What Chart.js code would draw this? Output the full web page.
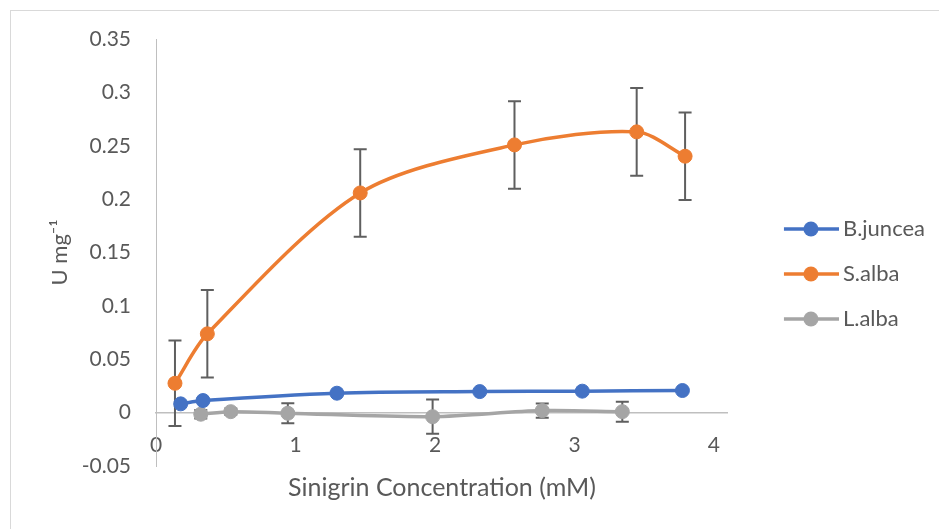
<!DOCTYPE html>
<html>
<head>
<meta charset="utf-8">
<script src="https://cdn.jsdelivr.net/npm/chart.js@4"></script>
<style>
  html, body { margin: 0; padding: 0; background: #ffffff; }
  #wrap { position: relative; width: 939px; height: 529px; overflow: hidden; }
  #frame { position: absolute; left: 10px; top: 10px; width: 960px; height: 560px;
           border: 1px solid #d9d9d9; box-sizing: border-box; pointer-events: none; }
  #c { position: absolute; left: 0; top: 0; }
</style>
</head>
<body>
<div id="wrap">
  <canvas id="c" width="939" height="529"></canvas>
  <div id="frame"></div>
</div>
<script>
// Series names
const seriesNames = ['B.juncea', 'S.alba', 'L.alba'];

// Sinigrin concentration (mM) and activity (U mg-1) per series
const bJunceaX = [0.177, 0.337, 1.297, 2.321, 3.056, 3.774];
const bJunceaY = [0.0082, 0.0113, 0.0182, 0.0197, 0.0201, 0.0207];

const sAlbaX = [0.136, 0.368, 1.464, 2.570, 3.446, 3.793];
const sAlbaY = [0.0275, 0.0738, 0.2058, 0.2508, 0.2630, 0.2402];
const sAlbaErr = [0.040, 0.041, 0.041, 0.041, 0.041, 0.041];

const lAlbaX = [0.321, 0.536, 0.945, 1.983, 2.769, 3.343];
const lAlbaY = [-0.0015, 0.0009, -0.0006, -0.0038, 0.0019, 0.0009];
const lAlbaErr = [0.004, 0.003, 0.0094, 0.016, 0.0066, 0.0094];

// Axis ticks
const xTicks = [0, 1, 2, 3, 4];
const yMin = -0.05, yMax = 0.35, yStep = 0.05;

const colors = ['#4472C4', '#ED7D31', '#A5A5A5'];
const textColor = '#595959';

Chart.defaults.font.family = 'Lato, "Open Sans", sans-serif';
Chart.defaults.color = textColor;

const toPoints = (xs, ys) => xs.map((x, i) => ({ x: x, y: ys[i] }));

// Legend symbol: short line with a round marker in the middle
function legendSymbol(color) {
  const cv = document.createElement('canvas');
  cv.width = 95; cv.height = 16;
  const g = cv.getContext('2d');
  g.strokeStyle = color;
  g.lineWidth = 3.5;
  g.beginPath(); g.moveTo(40, 8); g.lineTo(95, 8); g.stroke();
  g.fillStyle = color;
  g.beginPath(); g.arc(67, 8, 7.5, 0, Math.PI * 2); g.fill();
  return cv;
}
const symbols = colors.map(legendSymbol);

// Vertical error bars with caps, drawn under the series
const errorBars = {
  id: 'errorBars',
  beforeDatasetsDraw(chart) {
    const { ctx, scales: { x, y } } = chart;
    ctx.save();
    ctx.strokeStyle = '#5f5f5f';
    ctx.lineWidth = 2;
    chart.data.datasets.forEach((ds) => {
      if (!ds.errors) return;
      ds.data.forEach((p, i) => {
        const e = ds.errors[i];
        const px = x.getPixelForValue(p.x);
        const top = y.getPixelForValue(p.y + e);
        const bot = y.getPixelForValue(p.y - e);
        ctx.beginPath();
        ctx.moveTo(px, top); ctx.lineTo(px, bot);
        ctx.moveTo(px - 6.5, top); ctx.lineTo(px + 6.5, top);
        ctx.moveTo(px - 6.5, bot); ctx.lineTo(px + 6.5, bot);
        ctx.stroke();
      });
    });
    ctx.restore();
  }
};

const seriesX = [bJunceaX, sAlbaX, lAlbaX];
const seriesY = [bJunceaY, sAlbaY, lAlbaY];
const seriesErr = [null, sAlbaErr, lAlbaErr];

const datasets = seriesNames.map((name, i) => ({
  label: name,
  data: toPoints(seriesX[i], seriesY[i]),
  errors: seriesErr[i],
  showLine: true,
  tension: 0.3,
  borderColor: colors[i],
  backgroundColor: colors[i],
  borderWidth: 3.5,
  pointRadius: 7,
  pointBorderWidth: 1,
  pointBackgroundColor: colors[i],
  pointBorderColor: colors[i],
  pointHoverRadius: 7
}));

new Chart(document.getElementById('c'), {
  type: 'scatter',
  data: { datasets },
  plugins: [errorBars],
  options: {
    responsive: false,
    devicePixelRatio: 1,
    animation: false,
    layout: { padding: { left: 10, top: 39, right: 4, bottom: 20 } },
    plugins: {
      tooltip: { enabled: false },
      legend: {
        position: 'right',
        labels: {
          usePointStyle: true,
          pointStyleWidth: 81,
          boxHeight: 16,
          padding: 23,
          color: textColor,
          font: { size: 22 },
          generateLabels(chart) {
            const items = Chart.defaults.plugins.legend.labels.generateLabels(chart);
            items.forEach((it) => { it.pointStyle = symbols[it.datasetIndex]; });
            return items;
          }
        }
      }
    },
    scales: {
      x: {
        type: 'linear',
        position: 'bottom',
        min: 0,
        max: 4.1,
        grid: { display: false, drawTicks: false },
        border: { display: false },
        ticks: { display: false },
        title: {
          display: true,
          text: 'Sinigrin Concentration (mM)',
          color: textColor,
          font: { size: 25 },
          padding: { top: 0, bottom: 6 }
        },
        afterFit(scale) { scale.height = 43; }
      },
      x0: {
        type: 'linear',
        axis: 'x',
        position: { y: 0 },
        min: 0,
        max: 4.1,
        grid: { display: false, drawTicks: false },
        border: { display: true, color: '#bfbfbf', width: 1.5 },
        ticks: { padding: 20.5, color: textColor, font: { size: 21 } },
        afterBuildTicks(scale) { scale.ticks = xTicks.map((v) => ({ value: v })); },
        afterFit(scale) { scale.height = 0; }
      },
      y: {
        type: 'linear',
        min: yMin,
        max: yMax,
        grid: { display: false, drawTicks: false },
        border: { display: true, color: '#bfbfbf', width: 1 },
        ticks: {
          stepSize: yStep,
          padding: 25,
          color: textColor,
          font: { size: 21 },
          callback: (v) => String(Number(v.toFixed(2)))
        },
        title: {
          display: true,
          text: 'U mg\u207B\u00B9',
          color: textColor,
          font: { size: 22 },
          padding: { top: 36.8, bottom: 9 }
        },
        afterFit(scale) { scale.width = 146; }
      }
    }
  }
});
</script>
</body>
</html>
